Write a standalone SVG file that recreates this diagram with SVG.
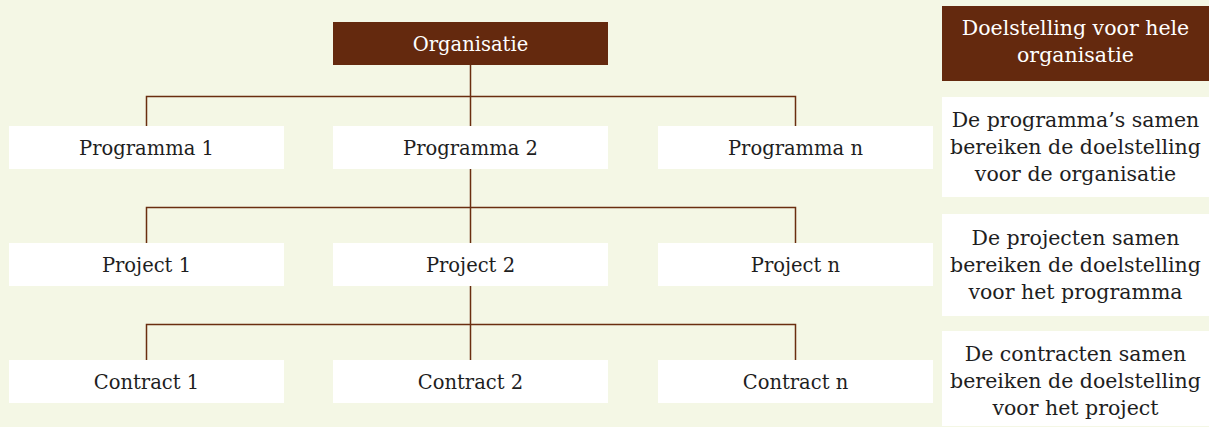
<svg xmlns="http://www.w3.org/2000/svg" width="1209" height="427" viewBox="0 0 1209 427">
  <style>
    .bg { fill: #f4f7e5; }
    .dark { fill: #64290e; }
    .light { fill: #ffffff; }
    .wire { fill: none; stroke: #6a2e10; stroke-width: 1.5; }
    text { font-family: "DejaVu Serif", "Liberation Serif", serif; font-size: 19.5px; text-anchor: middle; }
    .legend text { font-size: 20.5px; }
    .on-dark { fill: #ffffff; }
    .on-light { fill: #1e1e1e; }
  </style>

  <rect class="bg" x="0" y="0" width="1209" height="427"/>

  <!-- connectors -->
  <g id="connectors">
    <path class="wire" d="M470.5,65 V126 M146.5,126 V96.5 H795.5 V126"/>
    <path class="wire" d="M470.5,169 V243 M146.5,243 V207.5 H795.5 V243"/>
    <path class="wire" d="M470.5,286 V360 M146.5,360 V324.5 H795.5 V360"/>
  </g>

  <!-- top level -->
  <g id="organisatie">
    <rect class="dark" x="333" y="22" width="275" height="43"/>
    <text class="on-dark" x="470.5" y="50.5">Organisatie</text>
  </g>

  <!-- programmes -->
  <g id="programma-1">
    <rect class="light" x="9" y="126" width="275" height="43"/>
    <text class="on-light" x="146.5" y="154.5">Programma 1</text>
  </g>
  <g id="programma-2">
    <rect class="light" x="333" y="126" width="275" height="43"/>
    <text class="on-light" x="470.5" y="154.5">Programma 2</text>
  </g>
  <g id="programma-n">
    <rect class="light" x="658" y="126" width="275" height="43"/>
    <text class="on-light" x="795.5" y="154.5">Programma n</text>
  </g>

  <!-- projects -->
  <g id="project-1">
    <rect class="light" x="9" y="243" width="275" height="43"/>
    <text class="on-light" x="146.5" y="271.5">Project 1</text>
  </g>
  <g id="project-2">
    <rect class="light" x="333" y="243" width="275" height="43"/>
    <text class="on-light" x="470.5" y="271.5">Project 2</text>
  </g>
  <g id="project-n">
    <rect class="light" x="658" y="243" width="275" height="43"/>
    <text class="on-light" x="795.5" y="271.5">Project n</text>
  </g>

  <!-- contracts -->
  <g id="contract-1">
    <rect class="light" x="9" y="360" width="275" height="43"/>
    <text class="on-light" x="146.5" y="388.5">Contract 1</text>
  </g>
  <g id="contract-2">
    <rect class="light" x="333" y="360" width="275" height="43"/>
    <text class="on-light" x="470.5" y="388.5">Contract 2</text>
  </g>
  <g id="contract-n">
    <rect class="light" x="658" y="360" width="275" height="43"/>
    <text class="on-light" x="795.5" y="388.5">Contract n</text>
  </g>

  <!-- legend column -->
  <g class="legend">
    <g id="doel-organisatie">
      <rect class="dark" x="942" y="6" width="267" height="75"/>
      <text class="on-dark" x="1075.5" y="34.5">Doelstelling voor hele</text>
      <text class="on-dark" x="1075.5" y="61.5">organisatie</text>
    </g>
    <g id="doel-programmas">
      <rect class="light" x="942" y="97" width="267" height="100"/>
      <text class="on-light" x="1075.5" y="127">De programma’s samen</text>
      <text class="on-light" x="1075.5" y="154">bereiken de doelstelling</text>
      <text class="on-light" x="1075.5" y="181">voor de organisatie</text>
    </g>
    <g id="doel-projecten">
      <rect class="light" x="942" y="214" width="267" height="102"/>
      <text class="on-light" x="1075.5" y="244.5">De projecten samen</text>
      <text class="on-light" x="1075.5" y="271.5">bereiken de doelstelling</text>
      <text class="on-light" x="1075.5" y="298.5">voor het programma</text>
    </g>
    <g id="doel-contracten">
      <rect class="light" x="942" y="331" width="267" height="95"/>
      <text class="on-light" x="1075.5" y="361">De contracten samen</text>
      <text class="on-light" x="1075.5" y="388">bereiken de doelstelling</text>
      <text class="on-light" x="1075.5" y="415">voor het project</text>
    </g>
  </g>
</svg>
